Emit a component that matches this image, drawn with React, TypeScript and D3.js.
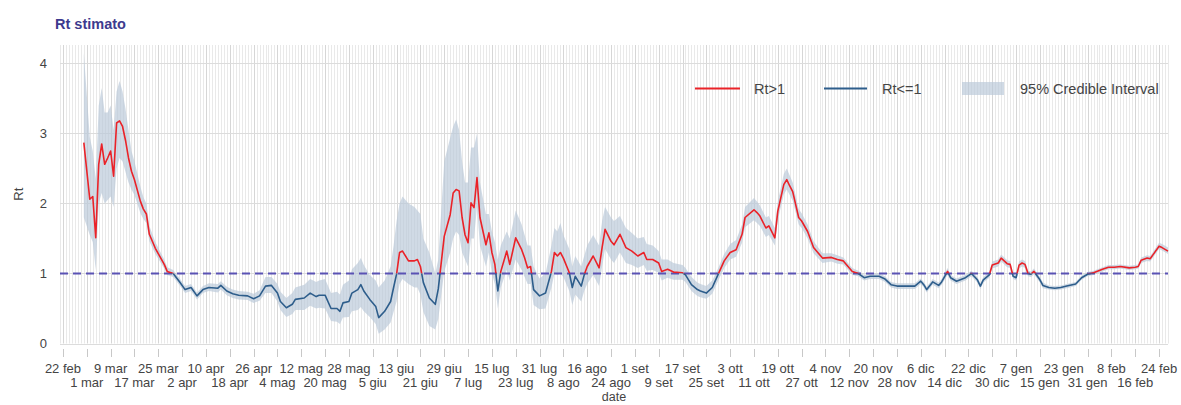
import React from "react";
import * as d3 from "d3";

// ---- data ----
const DATES: string[] = [
  "2020-02-29","2020-03-02","2020-03-03","2020-03-04","2020-03-05","2020-03-06","2020-03-07","2020-03-08","2020-03-09","2020-03-10",
  "2020-03-11","2020-03-12","2020-03-13","2020-03-14","2020-03-15","2020-03-16","2020-03-17","2020-03-19","2020-03-20","2020-03-21",
  "2020-03-22","2020-03-24","2020-03-27","2020-03-28","2020-03-30","2020-04-01","2020-04-03","2020-04-05","2020-04-07","2020-04-09",
  "2020-04-11","2020-04-14","2020-04-15","2020-04-17","2020-04-19","2020-04-21","2020-04-24","2020-04-26","2020-04-28","2020-04-30",
  "2020-05-02","2020-05-04","2020-05-05","2020-05-07","2020-05-09","2020-05-10","2020-05-13","2020-05-15","2020-05-17","2020-05-18",
  "2020-05-20","2020-05-22","2020-05-24","2020-05-25","2020-05-26","2020-05-28","2020-05-29","2020-05-31","2020-06-01","2020-06-02",
  "2020-06-04","2020-06-06","2020-06-07","2020-06-09","2020-06-11","2020-06-12","2020-06-13","2020-06-14","2020-06-15","2020-06-17",
  "2020-06-19","2020-06-20","2020-06-21","2020-06-22","2020-06-24","2020-06-26","2020-06-27","2020-06-29","2020-07-01","2020-07-02",
  "2020-07-03","2020-07-04","2020-07-05","2020-07-06","2020-07-07","2020-07-08","2020-07-09","2020-07-10","2020-07-11","2020-07-13",
  "2020-07-14","2020-07-15","2020-07-16","2020-07-17","2020-07-18","2020-07-20","2020-07-21","2020-07-23","2020-07-25","2020-07-26",
  "2020-07-27","2020-07-28","2020-07-29","2020-07-31","2020-08-02","2020-08-04","2020-08-05","2020-08-06","2020-08-07","2020-08-08",
  "2020-08-10","2020-08-11","2020-08-12","2020-08-14","2020-08-15","2020-08-16","2020-08-18","2020-08-20","2020-08-21","2020-08-22",
  "2020-08-24","2020-08-25","2020-08-27","2020-08-29","2020-08-31","2020-09-02","2020-09-04","2020-09-05","2020-09-07","2020-09-09",
  "2020-09-10","2020-09-12","2020-09-14","2020-09-17","2020-09-18","2020-09-20","2020-09-22","2020-09-23","2020-09-25","2020-09-27",
  "2020-09-29","2020-10-01","2020-10-03","2020-10-05","2020-10-07","2020-10-08","2020-10-11","2020-10-12","2020-10-13","2020-10-15",
  "2020-10-16","2020-10-18","2020-10-19","2020-10-21","2020-10-22","2020-10-23","2020-10-24","2020-10-26","2020-10-27","2020-10-29",
  "2020-10-31","2020-11-03","2020-11-06","2020-11-08","2020-11-10","2020-11-13","2020-11-15","2020-11-17","2020-11-19","2020-11-22",
  "2020-11-24","2020-11-26","2020-11-28","2020-12-02","2020-12-04","2020-12-06","2020-12-07","2020-12-08","2020-12-10","2020-12-12",
  "2020-12-13","2020-12-15","2020-12-16","2020-12-18","2020-12-21","2020-12-23","2020-12-25","2020-12-26","2020-12-27","2020-12-29",
  "2020-12-30","2021-01-01","2021-01-02","2021-01-04","2021-01-05","2021-01-06","2021-01-07","2021-01-08","2021-01-09","2021-01-10",
  "2021-01-11","2021-01-12","2021-01-13","2021-01-15","2021-01-16","2021-01-18","2021-01-20","2021-01-22","2021-01-24","2021-01-27",
  "2021-01-29","2021-01-31","2021-02-02","2021-02-05","2021-02-07","2021-02-09","2021-02-11","2021-02-14","2021-02-16","2021-02-17",
  "2021-02-18","2021-02-20","2021-02-21","2021-02-22","2021-02-24","2021-02-25","2021-02-27",
];

const RT: number[] = [
  2.87,2.06,2.10,1.51,2.56,2.85,2.56,2.65,2.75,2.39,
  3.15,3.18,3.10,2.90,2.65,2.46,2.34,2.03,1.92,1.85,
  1.56,1.36,1.13,1.03,1.00,0.89,0.77,0.80,0.68,0.77,
  0.80,0.79,0.83,0.75,0.71,0.69,0.68,0.64,0.68,0.82,
  0.83,0.72,0.60,0.51,0.56,0.63,0.65,0.72,0.67,0.69,
  0.69,0.50,0.50,0.46,0.58,0.60,0.72,0.77,0.84,0.75,
  0.63,0.53,0.37,0.46,0.60,0.80,0.99,1.30,1.32,1.18,
  1.18,1.20,1.10,0.87,0.65,0.56,0.78,1.53,1.84,2.15,
  2.20,2.18,1.80,1.55,1.44,2.01,1.94,2.37,1.80,1.41,
  1.58,1.30,1.13,0.75,1.03,1.32,1.13,1.51,1.34,1.22,
  1.08,1.10,0.77,0.68,0.72,1.03,1.30,1.25,1.30,1.22,
  1.01,0.80,0.96,0.82,0.98,1.10,1.25,1.08,1.37,1.63,
  1.46,1.41,1.56,1.37,1.32,1.25,1.30,1.20,1.20,1.15,
  1.03,1.06,1.02,1.01,0.98,0.84,0.77,0.75,0.72,0.80,
  0.99,1.18,1.30,1.34,1.56,1.80,1.91,1.87,1.82,1.65,
  1.68,1.51,1.89,2.27,2.34,2.25,2.17,1.80,1.75,1.60,
  1.37,1.22,1.23,1.20,1.18,1.03,1.00,0.94,0.96,0.96,
  0.92,0.84,0.82,0.82,0.82,0.89,0.84,0.77,0.88,0.83,
  0.88,1.03,0.94,0.89,0.94,1.00,0.91,0.82,0.91,0.98,
  1.12,1.15,1.22,1.14,1.13,0.96,0.94,1.12,1.15,1.13,
  1.00,0.99,1.03,0.91,0.83,0.80,0.79,0.80,0.82,0.85,
  0.94,0.99,1.01,1.06,1.09,1.09,1.10,1.08,1.09,1.10,
  1.19,1.22,1.21,1.27,1.39,1.37,1.32,
];

const LO: number[] = [
  1.80,1.55,1.45,1.05,2.00,2.15,2.00,2.05,2.10,1.95,
  2.50,2.65,2.60,2.45,2.30,2.20,2.12,1.86,1.78,1.72,
  1.46,1.28,1.07,0.98,0.95,0.84,0.72,0.75,0.63,0.72,
  0.75,0.73,0.77,0.69,0.65,0.63,0.62,0.58,0.61,0.72,
  0.72,0.60,0.48,0.38,0.42,0.48,0.48,0.54,0.50,0.51,
  0.50,0.32,0.31,0.28,0.37,0.38,0.46,0.48,0.52,0.46,
  0.38,0.28,0.14,0.20,0.30,0.45,0.60,0.85,0.92,0.85,
  0.80,0.80,0.70,0.45,0.25,0.20,0.35,1.03,1.30,1.50,
  1.60,1.55,1.30,1.20,1.10,1.50,1.50,1.95,1.40,1.10,
  1.30,1.00,0.85,0.50,0.80,1.05,0.90,1.20,1.05,0.95,
  0.85,0.85,0.55,0.49,0.50,0.80,1.00,0.98,1.00,0.95,
  0.75,0.55,0.70,0.60,0.75,0.85,0.98,0.82,1.10,1.35,
  1.20,1.15,1.30,1.15,1.12,1.08,1.12,1.04,1.05,1.01,
  0.90,0.94,0.91,0.91,0.88,0.75,0.68,0.66,0.64,0.71,
  0.90,1.08,1.20,1.24,1.44,1.66,1.76,1.72,1.68,1.52,
  1.55,1.40,1.76,2.13,2.20,2.12,2.04,1.70,1.65,1.50,
  1.29,1.15,1.17,1.14,1.13,0.98,0.96,0.90,0.92,0.92,
  0.88,0.80,0.78,0.78,0.78,0.85,0.80,0.73,0.84,0.79,
  0.84,0.98,0.90,0.85,0.90,0.96,0.87,0.78,0.87,0.94,
  1.07,1.10,1.17,1.09,1.08,0.92,0.90,1.07,1.10,1.08,
  0.96,0.95,0.99,0.87,0.79,0.77,0.76,0.77,0.79,0.82,
  0.91,0.96,0.98,1.03,1.06,1.06,1.07,1.05,1.06,1.07,
  1.15,1.18,1.17,1.23,1.35,1.33,1.28,
];

const HI: number[] = [
  4.15,2.95,2.75,2.35,3.40,3.65,3.30,3.30,3.40,3.05,
  3.60,3.75,3.60,3.35,3.05,2.75,2.60,2.24,2.09,2.00,
  1.68,1.45,1.20,1.09,1.05,0.94,0.82,0.85,0.73,0.82,
  0.86,0.85,0.89,0.81,0.77,0.75,0.74,0.71,0.76,0.95,
  0.95,0.85,0.74,0.65,0.72,0.80,0.84,0.92,0.88,0.90,
  0.92,0.72,0.74,0.70,0.84,0.90,1.06,1.15,1.22,1.12,
  0.98,0.90,0.80,0.90,1.10,1.40,1.75,2.00,2.10,2.00,
  1.95,1.90,1.85,1.50,1.30,1.00,1.20,2.60,2.94,3.10,
  3.20,3.05,2.60,2.30,2.30,2.80,2.80,3.00,2.30,1.85,
  1.85,1.60,1.45,1.20,1.40,1.60,1.50,1.90,1.70,1.55,
  1.40,1.40,1.10,0.93,1.00,1.40,1.65,1.60,1.72,1.55,
  1.35,1.10,1.25,1.10,1.25,1.40,1.55,1.40,1.75,1.95,
  1.80,1.75,1.82,1.65,1.58,1.50,1.52,1.42,1.40,1.32,
  1.20,1.20,1.15,1.12,1.08,0.95,0.87,0.85,0.82,0.90,
  1.08,1.28,1.42,1.48,1.70,1.95,2.08,2.03,1.97,1.80,
  1.82,1.65,2.03,2.42,2.50,2.40,2.30,1.92,1.86,1.70,
  1.46,1.29,1.29,1.26,1.23,1.08,1.04,0.98,1.00,1.00,
  0.96,0.88,0.86,0.86,0.86,0.93,0.88,0.81,0.92,0.87,
  0.92,1.08,0.98,0.93,0.98,1.04,0.95,0.86,0.95,1.02,
  1.17,1.20,1.27,1.19,1.18,1.00,0.98,1.17,1.20,1.18,
  1.04,1.03,1.07,0.95,0.87,0.83,0.82,0.83,0.85,0.88,
  0.97,1.02,1.04,1.09,1.12,1.12,1.13,1.11,1.12,1.13,
  1.23,1.26,1.25,1.31,1.44,1.42,1.37,
];

const TICK_LABELS: string[] = [
  "22 feb","1 mar","9 mar","17 mar","25 mar","2 apr","10 apr","18 apr","26 apr","4 mag",
  "12 mag","20 mag","28 mag","5 giu","13 giu","21 giu","29 giu","7 lug","15 lug","23 lug",
  "31 lug","8 ago","16 ago","24 ago","1 set","9 set","17 set","25 set","3 ott","11 ott",
  "19 ott","27 ott","4 nov","12 nov","20 nov","28 nov","6 dic","14 dic","22 dic","30 dic",
  "7 gen","15 gen","23 gen","31 gen","8 feb","16 feb","24 feb",
];
const TICK_START = "2020-02-22";
const TICK_STEP_DAYS = 8;
const Y_TICKS: number[] = [0, 1, 2, 3, 4];
const X_DOMAIN: string[] = ["2020-02-21", "2021-02-27"];
const Y_DOMAIN: number[] = [0, 4.264];
const THRESHOLD = 1;

const LEGEND = [
  { label: "Rt>1", kind: "line", color: "#ea2228" },
  { label: "Rt<=1", kind: "line", color: "#2d5d8b" },
  { label: "95% Credible Interval", kind: "band", color: "#b9c9d9" },
];

const FONT = "'Liberation Sans', Arial, Helvetica, sans-serif";

export default function App() {
  const W = 1181;
  const H = 405;
  const left = 60, right = 1168, top = 45, bottom = 343.5;
  const parse = d3.utcParse("%Y-%m-%d");

  const x = d3.scaleUtc().domain(X_DOMAIN.map((s) => parse(s) as Date)).range([left, right]);
  const y = d3.scaleLinear().domain(Y_DOMAIN).range([bottom, top]);

  const data = DATES.map((d, i) => ({ date: parse(d) as Date, rt: RT[i], lo: LO[i], hi: HI[i] }));

  const line = d3.line<any>().x((d) => x(d.date)).y((d) => y(d.rt));
  const area = d3.area<any>().x((d) => x(d.date)).y0((d) => y(d.lo)).y1((d) => y(d.hi));

  const [d0, d1] = x.domain();
  const days = d3.utcDay.range(d0, d3.utcDay.offset(d1, 1));
  const tickStart = parse(TICK_START) as Date;
  const ticks = TICK_LABELS.map((label, i) => ({
    label,
    date: d3.utcDay.offset(tickStart, i * TICK_STEP_DAYS),
    row: i % 2,
  }));
  const majorSet = new Set(ticks.map((t) => +t.date));
  const yThr = y(THRESHOLD);
  const crisp = (v: number) => Math.round(v) + 0.5;

  return (
    <svg
      width={W}
      height={H}
      style={{ position: "absolute", left: 0, top: 0, display: "block", background: "#fff" }}
      fontFamily={FONT}
    >
      <defs>
        <clipPath id="above">
          <rect x={left} y={0} width={right - left + 10} height={yThr} />
        </clipPath>
        <clipPath id="below">
          <rect x={left} y={yThr} width={right - left + 10} height={H - yThr} />
        </clipPath>
      </defs>

      {/* title */}
      <text x={55} y={29} fontSize={14.5} fontWeight="bold" fill="#3d3a8e">
        Rt stimato
      </text>

      {/* vertical daily grid */}
      {days.map((d, i) => {
        const major = majorSet.has(+d);
        const xx = crisp(x(d));
        return (
          <line
            key={"v" + i}
            x1={xx}
            x2={xx}
            y1={top}
            y2={bottom}
            stroke={major ? "#d6d6d6" : "#e9e9e9"}
            strokeWidth={1}
          />
        );
      })}

      {/* horizontal grid */}
      {Y_TICKS.map((t) => (
        <line
          key={"h" + t}
          x1={left}
          x2={right}
          y1={crisp(y(t))}
          y2={crisp(y(t))}
          stroke="#dcdcdc"
          strokeWidth={1}
        />
      ))}

      {/* credible interval band */}
      <path d={area(data) || ""} fill="#b9c9d9" fillOpacity={0.68} />

      {/* threshold line */}
      <line
        x1={left}
        x2={right}
        y1={yThr}
        y2={yThr}
        stroke="#5a52b4"
        strokeWidth={2}
        strokeDasharray="8,5"
      />

      {/* Rt line, coloured by threshold */}
      <path d={line(data) || ""} fill="none" stroke="#ea2228" strokeWidth={1.6} clipPath="url(#above)" strokeLinejoin="round" />
      <path d={line(data) || ""} fill="none" stroke="#2d5d8b" strokeWidth={1.6} clipPath="url(#below)" strokeLinejoin="round" />

      {/* y axis labels */}
      {Y_TICKS.map((t) => (
        <text key={"yl" + t} x={47} y={y(t)} dy="0.35em" textAnchor="end" fontSize={13} fill="#444">
          {t}
        </text>
      ))}
      <text
        transform={`translate(18,${(top + bottom) / 2}) rotate(-90)`}
        textAnchor="middle"
        dy="0.35em"
        fontSize={13}
        fill="#444"
      >
        Rt
      </text>

      {/* x axis ticks and labels */}
      {ticks.map((t, i) => {
        const xx = x(t.date);
        return (
          <g key={"xt" + i}>
            <line x1={crisp(xx)} x2={crisp(xx)} y1={349} y2={357} stroke="#c8c8c8" strokeWidth={1} />
            <text x={xx} y={t.row === 0 ? 373 : 387} textAnchor="middle" fontSize={13} fill="#444">
              {t.label}
            </text>
          </g>
        );
      })}
      <text x={(left + right) / 2} y={401} textAnchor="middle" fontSize={12.5} fill="#444">
        date
      </text>

      {/* legend */}
      <g fontSize={14.5} fill="#444">
        <line x1={695} x2={740} y1={88.5} y2={88.5} stroke={LEGEND[0].color} strokeWidth={2} />
        <text x={754} y={89} dy="0.35em">{LEGEND[0].label}</text>
        <line x1={824} x2={867} y1={88.5} y2={88.5} stroke={LEGEND[1].color} strokeWidth={2} />
        <text x={882} y={89} dy="0.35em">{LEGEND[1].label}</text>
        <rect x={962} y={82} width={42} height={13} fill={LEGEND[2].color} fillOpacity={0.68} />
        <text x={1020} y={89} dy="0.35em">{LEGEND[2].label}</text>
      </g>
    </svg>
  );
}
